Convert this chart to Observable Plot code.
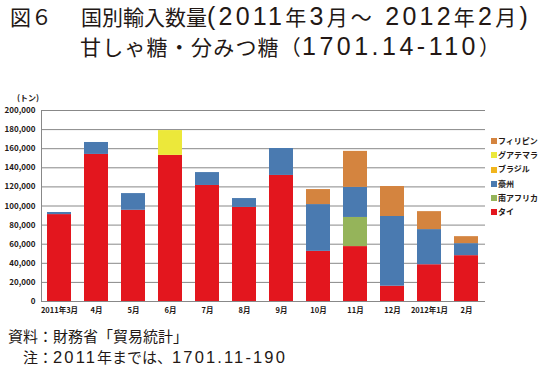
<!DOCTYPE html>
<html><head><meta charset="utf-8">
<script src="https://cdn.jsdelivr.net/npm/d3@7"></script>
<script src="https://cdn.jsdelivr.net/npm/@observablehq/plot@0.6"></script>
<style>
html,body{margin:0;padding:0;background:#fff;}
#wrap{position:relative;width:542px;height:376px;overflow:hidden;font-family:"Noto Sans CJK JP",sans-serif;color:#231815;}
.t{position:absolute;white-space:nowrap;font-size:21px;line-height:20px;}
.L{font-family:"Liberation Sans","Noto Sans CJK JP",sans-serif;font-size:25px;}
.fL{font-family:"Liberation Sans","Noto Sans CJK JP",sans-serif;font-size:16.5px;}
#chart{position:absolute;left:0;top:85px;}
#legend{position:absolute;left:491px;top:134px;font-size:8px;line-height:14.2px;font-weight:bold;}
#legend div{display:flex;align-items:center;}
#legend span.sw{display:inline-block;width:6px;height:6px;margin-right:1px;}
.foot{position:absolute;white-space:nowrap;font-size:15px;line-height:15px;}
#unit{position:absolute;left:17px;top:92px;font-size:8px;font-weight:bold;}
</style></head>
<body><div id="wrap">
<div class="t" style="left:10px;top:6px;">図６</div>
<div class="t" id="t1" style="left:81px;top:6px;">国別輸入数量<span class="s"><span class="L">(2011</span>年<span class="L">3</span>月～<span class="L"> 2012</span>年<span class="L">2</span>月<span class="L">)</span></span></div>
<div class="t" id="t2" style="left:80px;top:36px;"><span class="c">甘しゃ糖・分みつ糖（</span><span class="L">1701.14-110</span>）</div>
<div id="unit">(トン)</div>
<div id="chart"></div>
<div id="legend"></div>
<div class="foot" id="f1" style="left:8px;top:328px;">資料：財務省「貿易統計」</div>
<div class="foot" id="f2" style="left:8px;top:349px;">　注：<span class="fL">2011</span>年までは、<span class="fL">1701.11-190</span></div>
</div>
<script>
const months = ["2011年3月","4月","5月","6月","7月","8月","9月","10月","11月","12月","2012年1月","2月"];
// stacking order: bottom first
const countries = ["タイ","南アフリカ","豪州","ブラジル","グアテマラ","フィリピン"];
const colors = ["#E3161E","#95B45A","#4A7AB0","#F1B51D","#ECE83A","#D4843F"];
const tai        = [91000,154000,95500,153000,121500,98500,132000,52500,57500,16000,38500,48000];
const minami     = [0,0,0,0,0,0,0,0,30500,0,0,0];
const gou        = [2200,12500,17500,0,13500,9300,28200,49000,31500,73000,36800,12600];
const brazil     = [0,0,0,0,0,0,0,0,0,0,0,0];
const guatemala  = [0,0,0,26000,0,0,0,0,0,0,0,0];
const philippines= [0,0,0,0,0,0,0,15700,37700,31400,18800,7300];
const yTicks = [0,20000,40000,60000,80000,100000,120000,140000,160000,180000,200000];

const series = [tai,minami,gou,brazil,guatemala,philippines];
const data = [];
countries.forEach((c,i)=>months.forEach((m,j)=>data.push({month:m,country:c,value:series[i][j]})));

const chart = Plot.plot({
  width:542, height:235,
  marginLeft:41, marginRight:57, marginTop:25, marginBottom:19,
  style:{fontFamily:"'Noto Sans CJK JP',sans-serif",color:"#231815",background:"transparent"},
  x:{domain:months, paddingInner:0.346, paddingOuter:0.173, label:null},
  y:{domain:[0,200000], label:null},
  color:{domain:countries, range:colors},
  marks:[
    Plot.ruleY(yTicks,{stroke:"#888",strokeWidth:1}),
    Plot.frame({anchor:"left",stroke:"#888"}),
    Plot.barY(data,{x:"month",y:"value",fill:"country",order:countries}),
    Plot.axisY(yTicks,{tickSize:0,tickPadding:6,tickFormat:d3.format(","),fontSize:8,fontWeight:"bold",label:null}),
    Plot.axisX({tickSize:0,tickPadding:6,fontSize:7.5,fontWeight:"bold",label:null})
  ]
});
document.getElementById("chart").appendChild(chart);

const leg = document.getElementById("legend");
const legendOrder = ["フィリピン","グアテマラ","ブラジル","豪州","南アフリカ","タイ"];
legendOrder.forEach(c=>{
  const d = document.createElement("div");
  d.innerHTML = `<span class="sw" style="background:${colors[countries.indexOf(c)]}"></span>${c}`;
  leg.appendChild(d);
});

// stretch text lines to the reference widths by spreading letter-spacing
function fit(id, right, sel){
  const el = document.getElementById(id);
  const targets = Array.from(el.querySelectorAll(sel));
  const n = targets.reduce((s,t)=>s+t.textContent.length,0);
  const w = el.getBoundingClientRect().right;
  const extra = (right - w)/n;
  targets.forEach(t=>t.style.letterSpacing = extra+"px");
}
document.querySelector("#t2 .c").style.letterSpacing = "1.2px";
fit("t1", 531, ".s");
fit("t2", 500, ".L");
fit("f2", 287, ".fL");
</script>
</body></html>
